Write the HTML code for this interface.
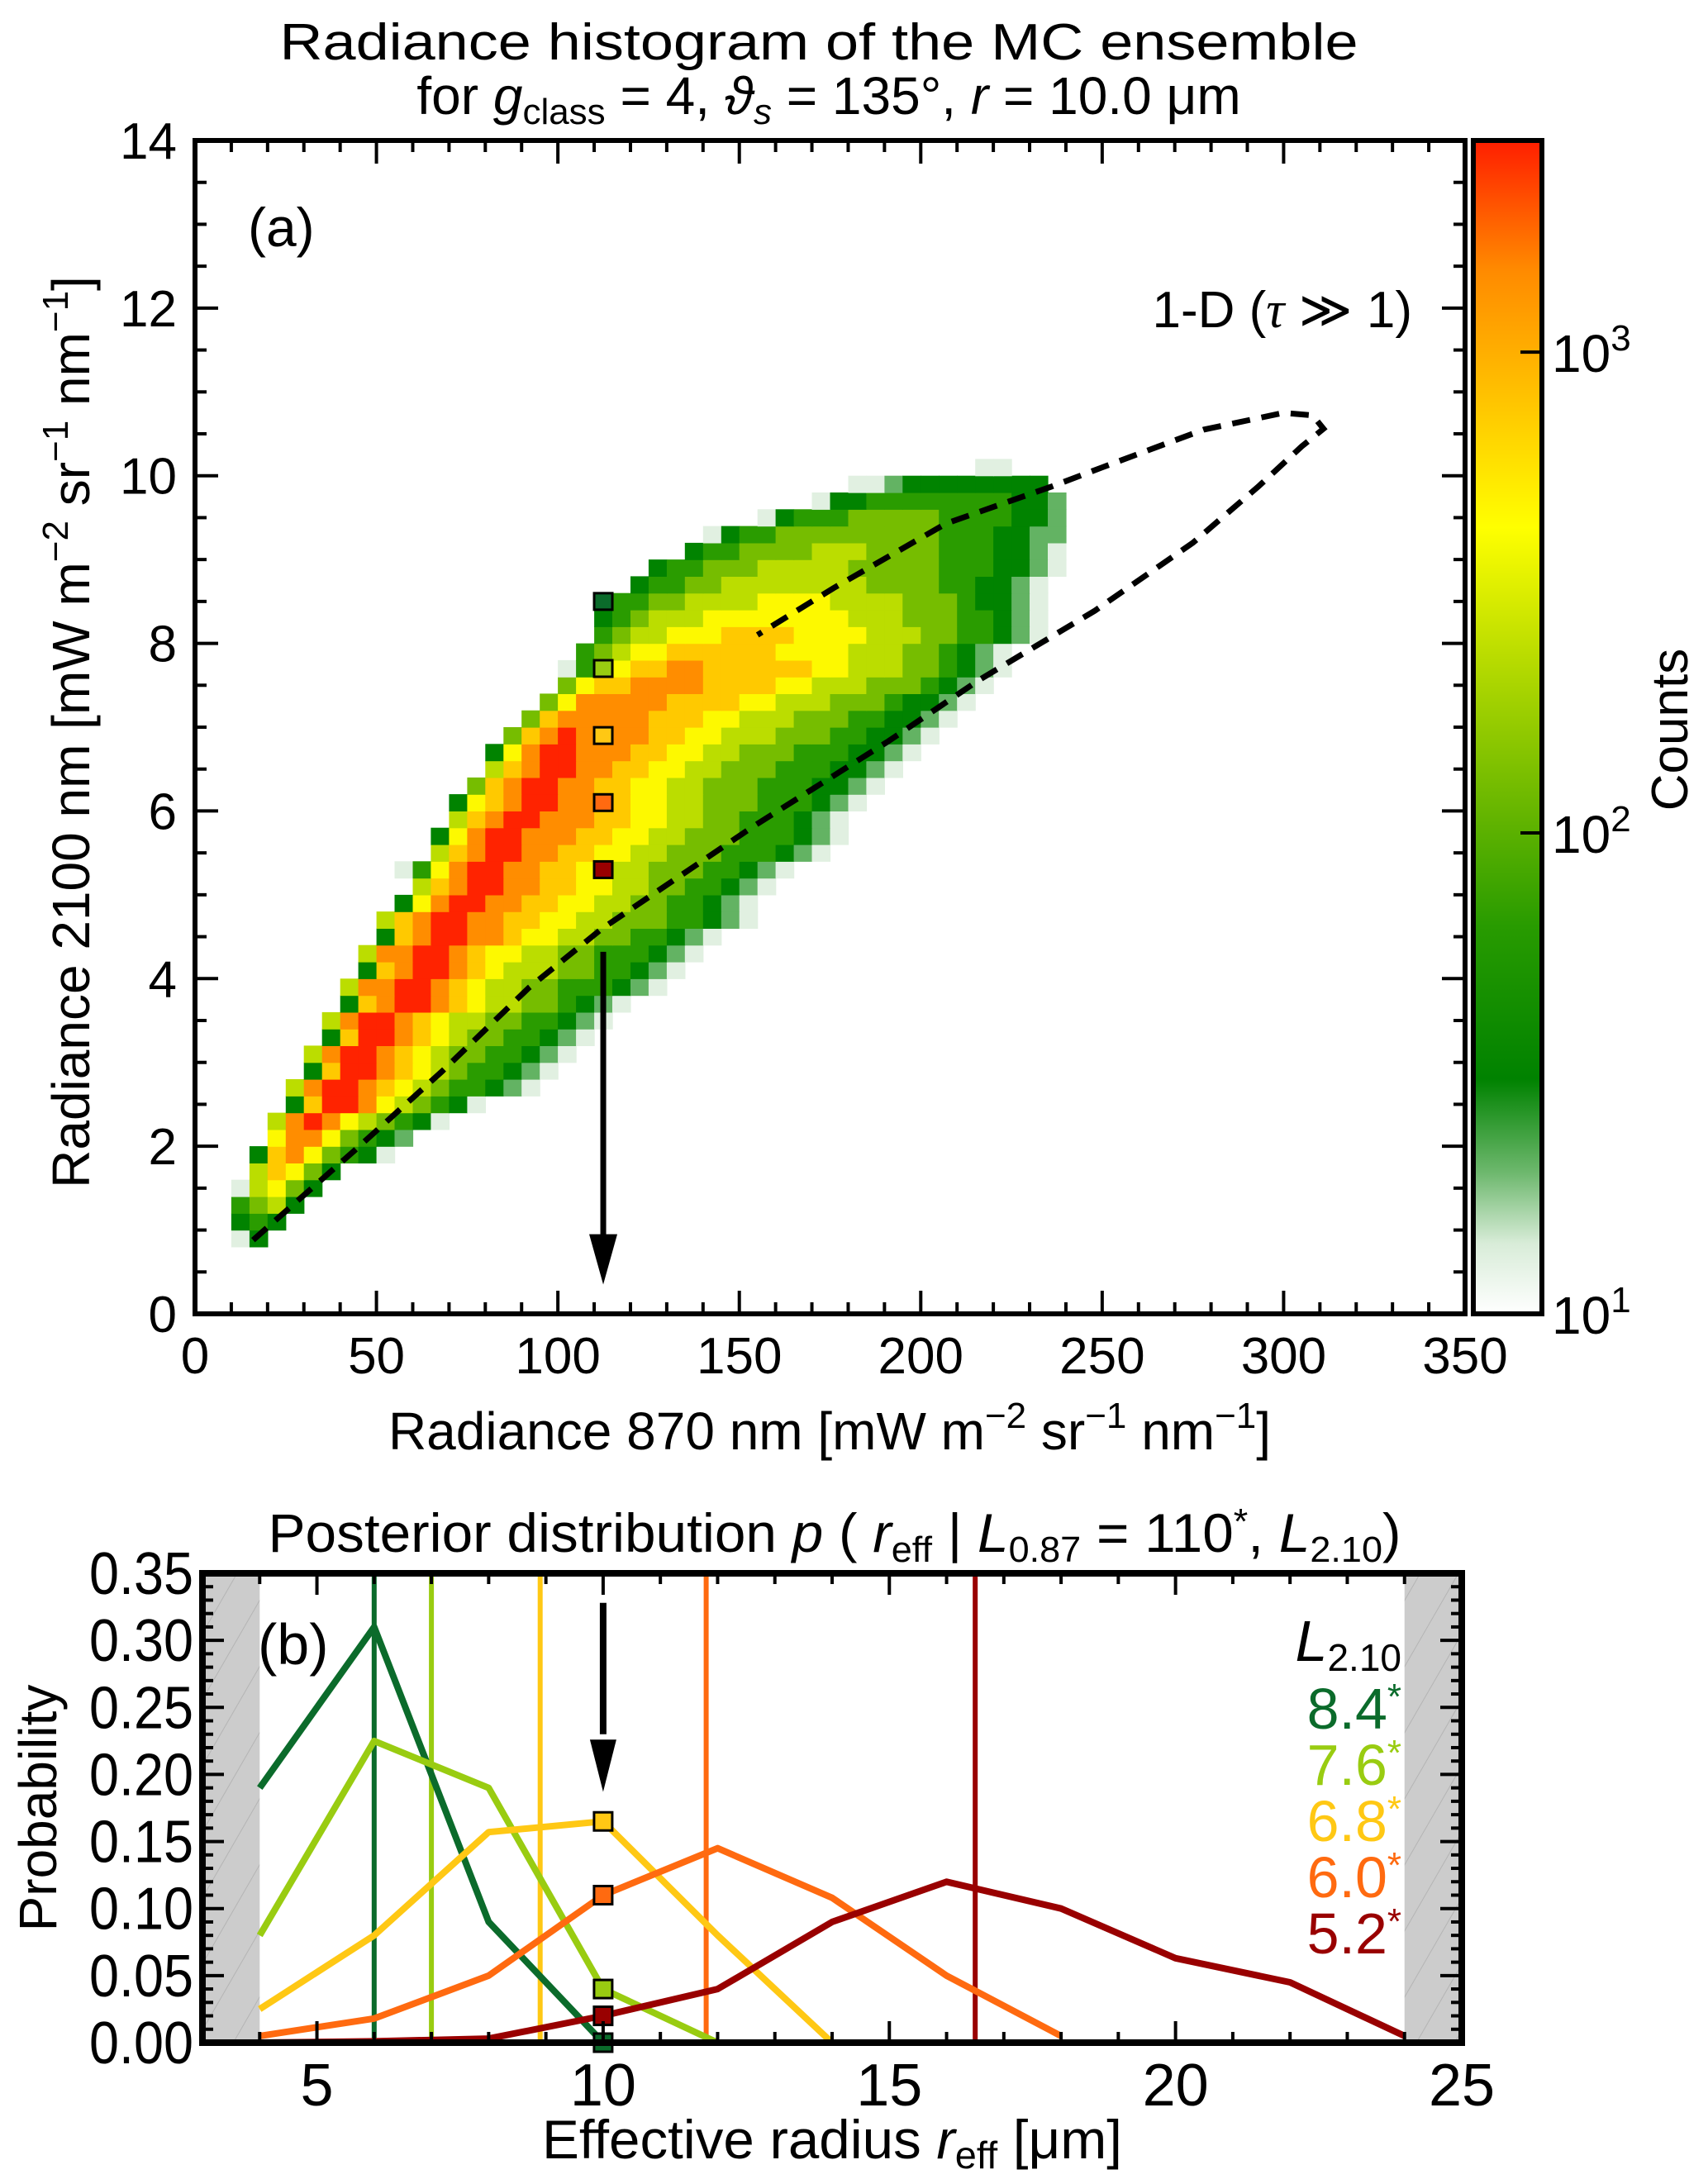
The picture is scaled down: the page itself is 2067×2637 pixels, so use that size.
<!DOCTYPE html>
<html><head><meta charset="utf-8"><style>
html,body{margin:0;padding:0;background:#fff}
svg{display:block;font-family:"Liberation Sans",sans-serif}
</style></head><body>
<svg id="fig" width="2067" height="2637" viewBox="0 0 2067 2637" xmlns="http://www.w3.org/2000/svg">
<defs>
<linearGradient id="cmap" x1="0" y1="1" x2="0" y2="0">
<stop offset="0" stop-color="#ffffff"/>
<stop offset="0.06" stop-color="#d8ecd8"/>
<stop offset="0.12" stop-color="#6eb86e"/>
<stop offset="0.2" stop-color="#008200"/>
<stop offset="0.33" stop-color="#289b00"/>
<stop offset="0.44" stop-color="#6eb900"/>
<stop offset="0.56" stop-color="#b9dc00"/>
<stop offset="0.67" stop-color="#ffff00"/>
<stop offset="0.78" stop-color="#ffc300"/>
<stop offset="0.89" stop-color="#ff8a00"/>
<stop offset="1" stop-color="#ff1e00"/>
</linearGradient>
<pattern id="hatch" width="40" height="40" patternUnits="userSpaceOnUse" patternTransform="rotate(30)">
<rect width="40" height="40" fill="#cccccc"/><line x1="0" y1="0" x2="0" y2="40" stroke="#b4b4b4" stroke-width="2"/>
</pattern>
</defs>

<g font-size="62" text-anchor="middle">
<text x="991" y="72" textLength="1305" lengthAdjust="spacingAndGlyphs">Radiance histogram of the MC ensemble</text>
<text x="1003" y="138" font-size="64">for <tspan font-style="italic">g</tspan><tspan font-size="44" dy="12">class</tspan><tspan dy="-12"> = 4, </tspan><tspan font-style="italic">ϑ</tspan><tspan font-size="44" dy="12" font-style="italic">s</tspan><tspan dy="-12"> = 135°, </tspan><tspan font-style="italic">r</tspan> = 10.0 μm</text>
</g>

<g id="plotA"></g>
<g id="cbar"></g>

<text x="300" y="298" font-size="66">(a)</text>
<text x="1709" y="396" font-size="62" text-anchor="end">1-D (<tspan font-family="'Liberation Serif',serif" font-style="italic">τ</tspan> ≫ 1)</text>

<text x="1004" y="1754" font-size="64" text-anchor="middle">Radiance 870 nm [mW m<tspan font-size="44" dy="-26">−2</tspan><tspan dy="26"> sr</tspan><tspan font-size="44" dy="-26">−1</tspan><tspan dy="26"> nm</tspan><tspan font-size="44" dy="-26">−1</tspan><tspan dy="26">]</tspan></text>
<text transform="translate(108,886) rotate(-90)" font-size="64" text-anchor="middle">Radiance 2100 nm [mW m<tspan font-size="44" dy="-26">−2</tspan><tspan dy="26"> sr</tspan><tspan font-size="44" dy="-26">−1</tspan><tspan dy="26"> nm</tspan><tspan font-size="44" dy="-26">−1</tspan><tspan dy="26">]</tspan></text>
<text transform="translate(2042,883) rotate(-90)" font-size="62" text-anchor="middle">Counts</text>

<text x="1010" y="1878" font-size="66" text-anchor="middle" textLength="1371" lengthAdjust="spacingAndGlyphs">Posterior distribution <tspan font-style="italic">p</tspan> ( <tspan font-style="italic">r</tspan><tspan font-size="44" dy="12">eff</tspan><tspan dy="-12"> | </tspan><tspan font-style="italic">L</tspan><tspan font-size="44" dy="12">0.87</tspan><tspan dy="-12"> = 110</tspan><tspan font-size="44" dy="-22">*</tspan><tspan dy="22">, </tspan><tspan font-style="italic">L</tspan><tspan font-size="44" dy="12">2.10</tspan><tspan dy="-12">)</tspan></text>

<g id="plotB"></g>

<text x="312" y="2014" font-size="70">(b)</text>
<text x="1696" y="2010" font-size="70" text-anchor="end"><tspan font-style="italic">L</tspan><tspan font-size="46" dy="12">2.10</tspan></text>
<g font-size="70" text-anchor="end">
<text x="1696" y="2092" fill="#0b6b2b">8.4<tspan font-size="44" dy="-24">*</tspan></text>
<text x="1696" y="2160" fill="#99cc11">7.6<tspan font-size="44" dy="-24">*</tspan></text>
<text x="1696" y="2228" fill="#ffc814">6.8<tspan font-size="44" dy="-24">*</tspan></text>
<text x="1696" y="2296" fill="#ff6a10">6.0<tspan font-size="44" dy="-24">*</tspan></text>
<text x="1696" y="2364" fill="#990000">5.2<tspan font-size="44" dy="-24">*</tspan></text>
</g>
<text x="1007" y="2612" font-size="66" text-anchor="middle" textLength="702" lengthAdjust="spacingAndGlyphs">Effective radius <tspan font-style="italic">r</tspan><tspan font-size="46" dy="12">eff</tspan><tspan dy="-12"> [μm]</tspan></text>
<text transform="translate(68,2188) rotate(-90)" font-size="64" text-anchor="middle">Probability</text>
</svg>
<script>
// ---------- Panel (a) data ----------
const binX0 = 10, binDX = 5, binY0 = 0.8, binDY = 0.2;
const rowStartCols = [0,0,0,0,1,1,2,2,3,3,4,4,5,5,6,6,7,7,8,8,9,10,9,11,11,12,12,13,14,14,15,16,17,18,18,19,20,20,20,22,23,25,26,29,32,34,41];
const rowLevels = [
"02","232","3452","05642","57642","27864320","68864321","5898654320","27998654320",
"58998765433210","27998765433210","589987654433210","279987654433210","5899876554433210",
"2789987655443210","588998765544333210","278998765554433210","5889987665544333210",
"2789988766554433210","578998877665544433210","26899887766554433210","57899887766554433210",
"0368998877665544433210","5789988776655444333210","26899888776655444333210","5789988877665544333210",
"26789988776655444333210","47899887766554443332210","57899887766554443332210",
"268998887766554443332210","478988887766555444332210","478888877766555444332210",
"468888877776655544432210","467788887777665554443210","0356778877777766555443210",
"345667777776666555443210","3455666777766665554433210","2345556666666655544433210",
"2334455556666555544432210","23344555555554444332210","23344455555444443332210",
"233444455544443332210","02334444444443332211","02333444443333221","02233333333221",
"00122222222","00"];
const markerX = 112.5;
const markerY = [8.5, 7.7, 6.9, 6.1, 5.3];
const markerColors = ["#0b6b2b","#99cc11","#ffc814","#ff6a10","#990000"];
const curveX = [16,44,68,92,112,154,191,216,248,275,293,305,311,308,300,278,250,236,207,176,155];
const curveY = [0.88,1.95,2.89,3.89,4.59,5.82,6.83,7.56,8.39,9.2,9.87,10.35,10.56,10.72,10.75,10.55,10.1,9.87,9.43,8.66,8.1];
const xTicksA = [0,50,100,150,200,250,300,350];
const yTicksA = [0,2,4,6,8,10,12,14];
const cbarTicks = [1,2,3];

// ---------- Panel (b) data ----------
const rX = [4,6,8,10,12,14,16,18,20,22,24];
const p84 = [0.19,0.31,0.09,0.0];
const p76 = [0.08,0.225,0.19,0.04,0.0];
const p68 = [0.025,0.08,0.157,0.165,0.08,0.0];
const p60 = [0.005,0.018,0.05,0.11,0.145,0.108,0.05,0.005];
const p52 = [0.0,0.001,0.003,0.02,0.04,0.09,0.12,0.1,0.063,0.045,0.005];
const meanR = [6.0,7.0,8.9,11.8,16.5];
const seriesNames = ["8.4","7.6","6.8","6.0","5.2"];
const xTicksB = [5,10,15,20,25];
const yTicksB = [0,0.05,0.1,0.15,0.2,0.25,0.3,0.35];

const NS = "http://www.w3.org/2000/svg";
function mk(parent, tag, attrs){ const e=document.createElementNS(NS,tag); for(const k in attrs) e.setAttribute(k,attrs[k]); parent.appendChild(e); return e; }

const AL=236, AR=1773, AT=170, AB=1590;
const ax = v => AL + (v/350)*(AR-AL);
const ay = v => AB - (v/14)*(AB-AT);
const stops=[[0,[225,240,225]],[0.11,[100,180,100]],[0.22,[0,130,0]],[0.33,[40,155,0]],[0.44,[115,188,0]],[0.56,[190,222,0]],[0.67,[255,250,0]],[0.78,[255,200,0]],[0.89,[255,140,0]],[1,[255,35,0]]];
function cmap(f){ for(let i=1;i<stops.length;i++){ if(f<=stops[i][0]){ const a=stops[i-1],b=stops[i],t=(f-a[0])/(b[0]-a[0]); return "rgb("+a[1].map((c,k)=>Math.round(c+(b[1][k]-c)*t)).join(",")+")"; } } return "rgb(255,35,0)"; }

const gA = document.getElementById("plotA");
const cells = mk(gA,"g",{});


rowLevels.forEach((str,j)=>{
  const y0 = binY0 + j*binDY;
  for(let i=0;i<str.length;i++){
    const ch=str[i]; if(ch===".") continue;
    const d=+ch; const x0=binX0+(rowStartCols[j]+i)*binDX;
    const r=mk(cells,"rect",{x:ax(x0).toFixed(1),y:ay(y0+binDY).toFixed(1),width:(ax(x0+binDX)-ax(x0)+0.6).toFixed(1),height:(ay(y0)-ay(y0+binDY)+0.6).toFixed(1),fill:cmap(d/9)});
    
    
  }
});
const dpath = mk(gA,"path",{d:curveX.map((x,i)=>(i?"L":"M")+ax(x).toFixed(1)+","+ay(curveY[i]).toFixed(1)).join(" "),fill:"none",stroke:"#000","stroke-width":7,"stroke-dasharray":"22,14"});


markerY.forEach((v,i)=>{
  const s=mk(gA,"rect",{x:ax(markerX)-11,y:ay(v)-10,width:22,height:20,fill:markerColors[i],stroke:"#000","stroke-width":3});
  
  
});
const arrA=mk(gA,"g",{});


mk(arrA,"line",{x1:ax(112.5),y1:ay(4.32),x2:ax(112.5),y2:ay(0.9),stroke:"#000","stroke-width":7});
mk(arrA,"path",{d:`M${ax(112.5)-17},${ay(0.95)} L${ax(112.5)+17},${ay(0.95)} L${ax(112.5)},${ay(0.35)} Z`,fill:"#000"});
const fa=mk(gA,"rect",{x:AL,y:AT,width:AR-AL,height:AB-AT,fill:"none",stroke:"#000","stroke-width":6});


const tk=mk(gA,"g",{stroke:"#000","stroke-width":4});
for(let v=0;v<=350;v+=10){ const L=(v%50===0)?28:14; mk(tk,"line",{x1:ax(v),y1:AB,x2:ax(v),y2:AB-L}); mk(tk,"line",{x1:ax(v),y1:AT,x2:ax(v),y2:AT+L}); }
for(let v=0;v<=14;v+=0.5){ const L=(Math.abs(v%2)<1e-9)?28:14; mk(tk,"line",{x1:AL,y1:ay(v),x2:AL+L,y2:ay(v)}); mk(tk,"line",{x1:AR,y1:ay(v),x2:AR-L,y2:ay(v)}); }
xTicksA.forEach(v=>{ const t=mk(gA,"text",{x:ax(v),y:1662,"font-size":62,"text-anchor":"middle"}); t.textContent=v;
  
   });
yTicksA.forEach(v=>{ const t=mk(gA,"text",{x:214,y:ay(v)+22,"font-size":62,"text-anchor":"end"}); t.textContent=v;
  
   });

const CB=document.getElementById("cbar");
const CL=1783, CR=1866, CT=170, CBo=1590;
const cy = e => CBo - ((e-1)/2.44)*(CBo-CT);
mk(CB,"rect",{x:CL,y:CT,width:CR-CL,height:CBo-CT,fill:"url(#cmap)",stroke:"#000","stroke-width":6});
cbarTicks.forEach(e=>{
  if(e>1) mk(CB,"line",{x1:CR,y1:cy(e),x2:CR-26,y2:cy(e),stroke:"#000","stroke-width":4});
  const t=mk(CB,"text",{x:1878,y:cy(e)+24,"font-size":64}); t.innerHTML='10<tspan font-size="44" dy="-26">'+e+'</tspan>';
  
  
});

const BL=245, BR=1769, BT=1904, BB=2472;
const bx = v => BL + (v-3)/22*(BR-BL);
const by = v => BB - v/0.35*(BB-BT);
const gB=document.getElementById("plotB");
const g1=mk(gB,"rect",{x:bx(3),y:BT,width:bx(4)-bx(3),height:BB-BT,fill:"url(#hatch)"});


const g2=mk(gB,"rect",{x:bx(24),y:BT,width:bx(25)-bx(24),height:BB-BT,fill:"url(#hatch)"});


const series=[p84,p76,p68,p60,p52];
meanR.forEach((m,i)=>{
  const l=mk(gB,"line",{x1:bx(m),y1:BT,x2:bx(m),y2:BB,stroke:markerColors[i],"stroke-width":6});
  
  
});
series.forEach((s,i)=>{
  const p=mk(gB,"path",{d:s.map((v,k)=>(k?"L":"M")+bx(rX[k]).toFixed(1)+","+by(v).toFixed(1)).join(" "),fill:"none",stroke:markerColors[i],"stroke-width":8,"stroke-linejoin":"round"});
  
  
});
series.forEach((s,i)=>{
  const k=rX.indexOf(10);
  const r=mk(gB,"rect",{x:bx(10)-11,y:by(s[k])-11,width:22,height:22,fill:markerColors[i],stroke:"#000","stroke-width":3});
  
  
});
const arrB=mk(gB,"g",{});


mk(arrB,"line",{x1:bx(10),y1:by(0.328),x2:bx(10),y2:by(0.23),stroke:"#000","stroke-width":8});
mk(arrB,"path",{d:`M${bx(10)-16},${by(0.226)} L${bx(10)+16},${by(0.226)} L${bx(10)},${by(0.187)} Z`,fill:"#000"});
const fb=mk(gB,"rect",{x:BL,y:BT,width:BR-BL,height:BB-BT,fill:"none",stroke:"#000","stroke-width":8});


const tkb=mk(gB,"g",{stroke:"#000","stroke-width":4});
for(let v=3;v<=25;v++){ const L=(v%5===0)?26:13; mk(tkb,"line",{x1:bx(v),y1:BB,x2:bx(v),y2:BB-L}); mk(tkb,"line",{x1:bx(v),y1:BT,x2:bx(v),y2:BT+L}); }
for(let k=0;k<=35;k++){ const v=k/100; const L=(k%5===0)?26:13; mk(tkb,"line",{x1:BL,y1:by(v),x2:BL+L,y2:by(v)}); mk(tkb,"line",{x1:BR,y1:by(v),x2:BR-L,y2:by(v)}); }
xTicksB.forEach(v=>{ const t=mk(gB,"text",{x:bx(v),y:2548,"font-size":72,"text-anchor":"middle"}); t.textContent=v;
  
   });
yTicksB.forEach(v=>{ const t=mk(gB,"text",{x:234,y:by(v)+25,"font-size":72,"text-anchor":"end",textLength:126,lengthAdjust:"spacingAndGlyphs"}); t.textContent=v.toFixed(2);
  
   });
</script>
</body></html>
